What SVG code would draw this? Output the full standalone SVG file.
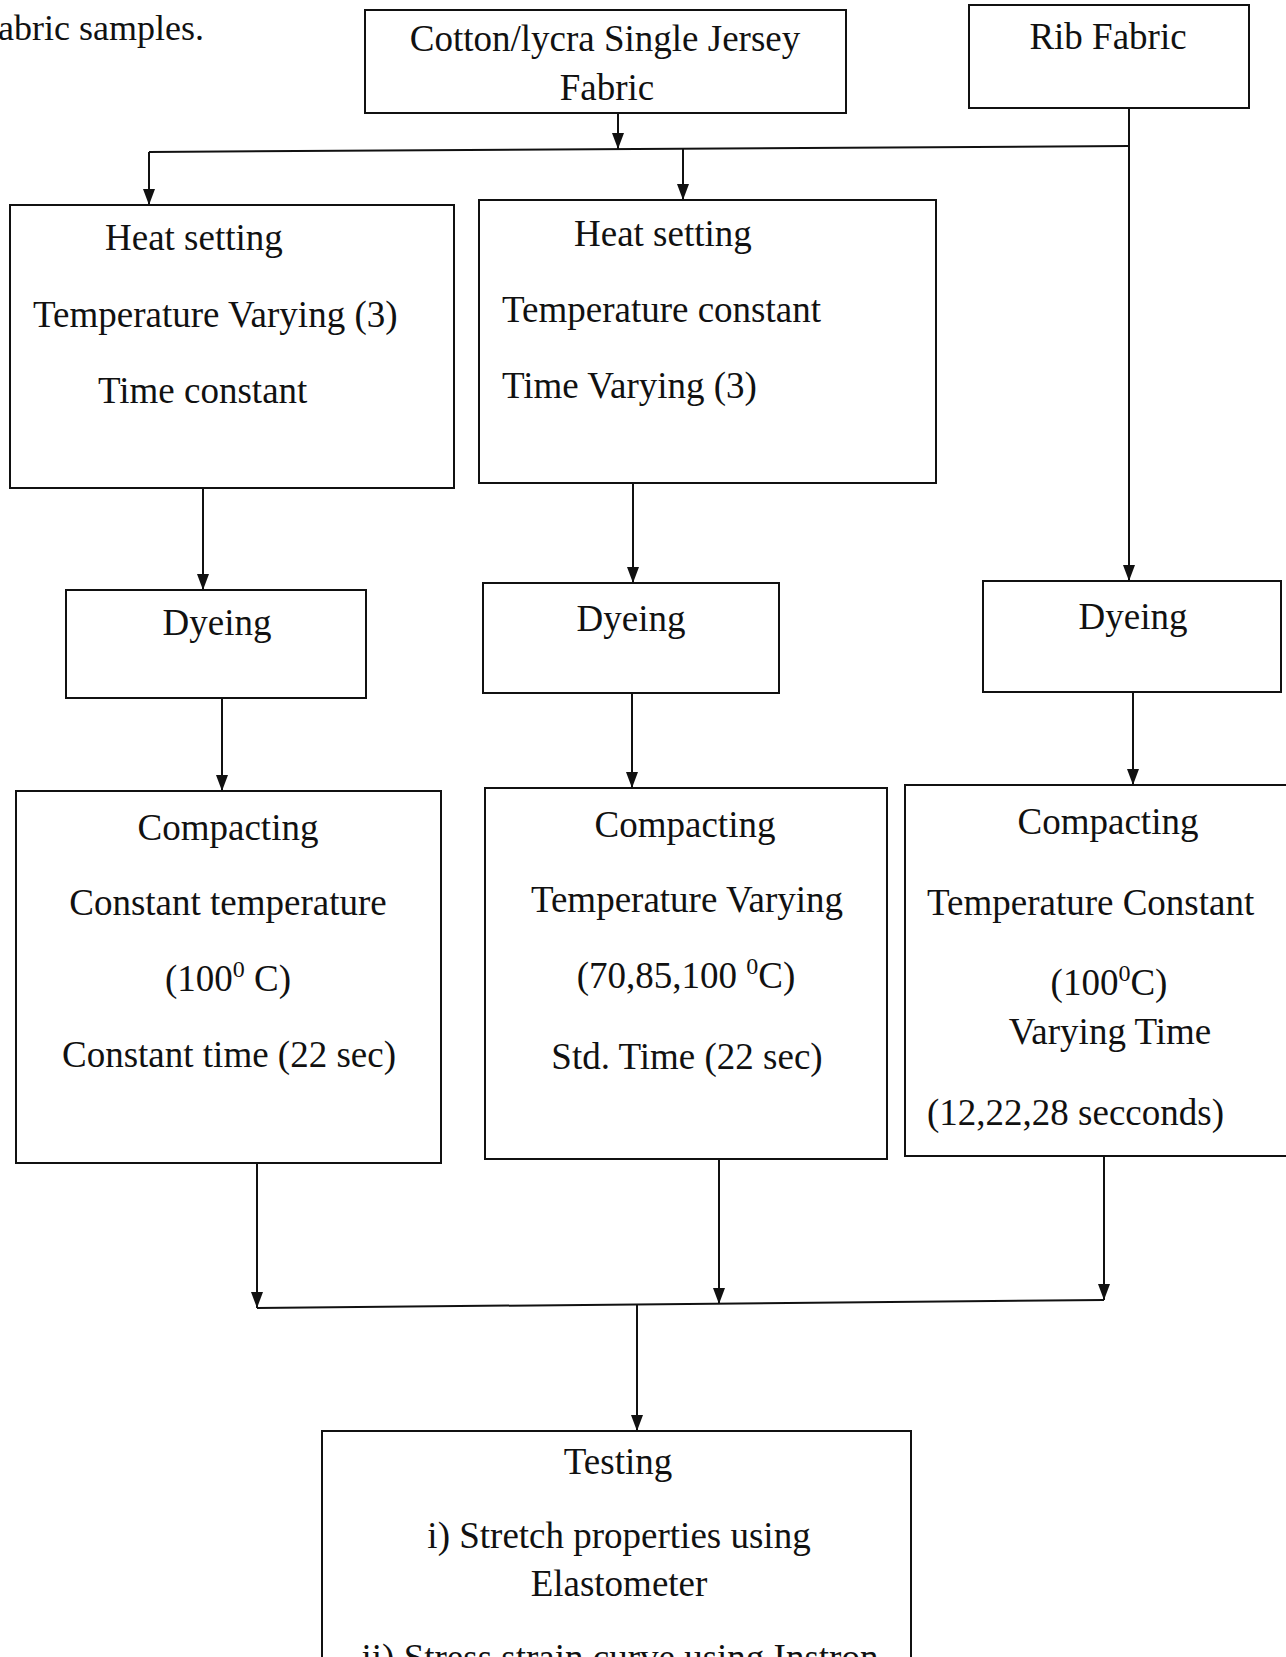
<svg xmlns="http://www.w3.org/2000/svg" width="1286" height="1657" viewBox="0 0 1286 1657">
<style>
  .box { fill: #ffffff; stroke: #111; stroke-width: 2; }
  .t { font-family: "Liberation Serif", "Times New Roman", serif; font-size: 37px; fill: #111; }
  .c { text-anchor: middle; }
  .sup { font-size: 24px; }
  .conn { fill: none; stroke: #111; stroke-width: 2; }
</style>
<defs>
  <marker id="ah" markerUnits="userSpaceOnUse" markerWidth="18" markerHeight="14" refX="16" refY="6" orient="auto">
    <path d="M0,0 L16,6 L0,12 z" fill="#111"/>
  </marker>
</defs>
<rect width="1286" height="1657" fill="#ffffff"/>

<text class="t" x="-2" y="40" style="font-size:36px">abric samples.</text>

<g id="connectors">
  <line class="conn" x1="618" y1="113" x2="618" y2="149" marker-end="url(#ah)"/>
  <path class="conn" d="M149,152 L1129,146"/>
  <line class="conn" x1="149" y1="152" x2="149" y2="205" marker-end="url(#ah)"/>
  <line class="conn" x1="683" y1="149" x2="683" y2="200" marker-end="url(#ah)"/>
  <line class="conn" x1="1129" y1="108" x2="1129" y2="581" marker-end="url(#ah)"/>
  <line class="conn" x1="203" y1="488" x2="203" y2="590" marker-end="url(#ah)"/>
  <line class="conn" x1="633" y1="483" x2="633" y2="583" marker-end="url(#ah)"/>
  <line class="conn" x1="222" y1="698" x2="222" y2="791" marker-end="url(#ah)"/>
  <line class="conn" x1="632" y1="693" x2="632" y2="788" marker-end="url(#ah)"/>
  <line class="conn" x1="1133" y1="692" x2="1133" y2="785" marker-end="url(#ah)"/>
  <line class="conn" x1="257" y1="1163" x2="257" y2="1308" marker-end="url(#ah)"/>
  <line class="conn" x1="719" y1="1159" x2="719" y2="1304" marker-end="url(#ah)"/>
  <line class="conn" x1="1104" y1="1156" x2="1104" y2="1300" marker-end="url(#ah)"/>
  <path class="conn" d="M257,1308 L1104,1300"/>
  <line class="conn" x1="637" y1="1304" x2="637" y2="1431" marker-end="url(#ah)"/>
</g>

<g id="node-cotton">
  <rect class="box" x="365" y="10" width="481" height="103"/>
  <text class="t c" x="605" y="51">Cotton/lycra Single Jersey</text>
  <text class="t c" x="607" y="100">Fabric</text>
</g>

<g id="node-rib">
  <rect class="box" x="969" y="5" width="280" height="103"/>
  <text class="t c" x="1108" y="49">Rib Fabric</text>
</g>

<g id="node-heat1">
  <rect class="box" x="10" y="205" width="444" height="283"/>
  <text class="t" x="105" y="250">Heat setting</text>
  <text class="t" x="33" y="327">Temperature Varying (3)</text>
  <text class="t" x="98" y="403">Time constant</text>
</g>

<g id="node-heat2">
  <rect class="box" x="479" y="200" width="457" height="283"/>
  <text class="t" x="574" y="246">Heat setting</text>
  <text class="t" x="502" y="322">Temperature constant</text>
  <text class="t" x="502" y="398">Time Varying (3)</text>
</g>

<g id="node-dye1">
  <rect class="box" x="66" y="590" width="300" height="108"/>
  <text class="t c" x="217" y="635">Dyeing</text>
</g>

<g id="node-dye2">
  <rect class="box" x="483" y="583" width="296" height="110"/>
  <text class="t c" x="631" y="631">Dyeing</text>
</g>

<g id="node-dye3">
  <rect class="box" x="983" y="581" width="298" height="111"/>
  <text class="t c" x="1133" y="629">Dyeing</text>
</g>

<g id="node-compact1">
  <rect class="box" x="16" y="791" width="425" height="372"/>
  <text class="t c" x="228" y="840">Compacting</text>
  <text class="t c" x="228" y="915">Constant temperature</text>
  <text class="t c" x="228" y="991">(100<tspan class="sup" dy="-14">0</tspan><tspan dy="14"> C)</tspan></text>
  <text class="t c" x="229" y="1067">Constant time (22 sec)</text>
</g>

<g id="node-compact2">
  <rect class="box" x="485" y="788" width="402" height="371"/>
  <text class="t c" x="685" y="837">Compacting</text>
  <text class="t c" x="687" y="912">Temperature Varying</text>
  <text class="t c" x="686" y="988">(70,85,100 <tspan class="sup" dy="-14">0</tspan><tspan dy="14">C)</tspan></text>
  <text class="t c" x="687" y="1069">Std. Time (22 sec)</text>
</g>

<g id="node-compact3">
  <rect class="box" x="905" y="785" width="400" height="371"/>
  <text class="t c" x="1108" y="834">Compacting</text>
  <text class="t" x="927" y="915">Temperature Constant</text>
  <text class="t c" x="1109" y="995">(100<tspan class="sup" dy="-14">0</tspan><tspan dy="14">C)</tspan></text>
  <text class="t c" x="1110" y="1044">Varying Time</text>
  <text class="t" x="927" y="1125">(12,22,28 secconds)</text>
</g>

<g id="node-testing">
  <rect class="box" x="322" y="1431" width="589" height="260"/>
  <text class="t c" x="618" y="1474">Testing</text>
  <text class="t c" x="619" y="1548">i) Stretch properties using</text>
  <text class="t c" x="619" y="1596">Elastometer</text>
  <text class="t c" x="620" y="1670">ii) Stress strain curve using Instron</text>
</g>
</svg>
